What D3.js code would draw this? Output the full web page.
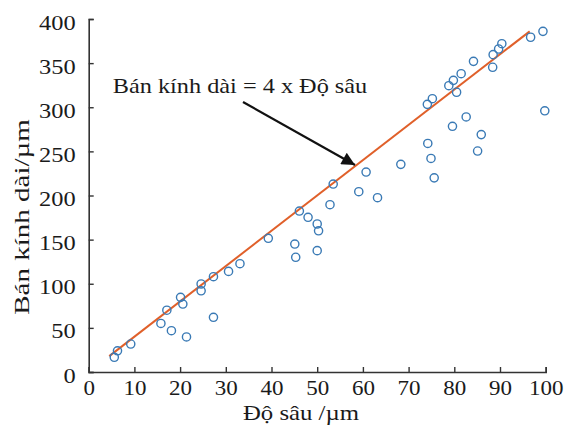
<!DOCTYPE html>
<html>
<head>
<meta charset="utf-8">
<script src="https://cdn.jsdelivr.net/npm/d3@7"></script>
<style>
  body { margin: 0; background: #fff; }
  text { font-family: "Liberation Serif", "Times New Roman", serif; fill: #1a1a1a; }
</style>
</head>
<body>
<svg id="canvas" width="570" height="434"></svg>
<script>
// measured points (depth um, long radius um)
let depth = [5.6, 6.3, 9.2, 15.8, 17.1, 18.1, 20.1, 20.6, 21.4, 24.6,
  24.6, 27.3, 27.3, 30.6, 33.1, 39.3, 45.1, 45.3, 46.1, 48,
  50, 50.3, 50, 52.8, 53.5, 59.1, 60.7, 63.2, 68.3, 74.2,
  74.9, 75.6, 74.1, 75.2, 78.8, 79.8, 80.5, 81.5, 84.2, 88.4,
  88.5, 89.7, 90.4, 96.7, 99.4, 99.8, 79.6, 82.6, 85.1, 85.9];
let radius = [16.7, 24, 31.7, 55, 70, 46.8, 84.6, 77, 39.7, 99.7,
  92, 62, 108, 114, 122.7, 151.5, 145, 130, 182.4, 175.3,
  167.7, 160, 137.5, 189.6, 213, 204.3, 226.6, 197.5, 235.3, 259,
  242, 220, 303.3, 309.7, 324.4, 330.5, 317, 338, 352, 345.3,
  359.6, 366, 372, 379.3, 386, 296, 278.4, 289, 250.4, 269];
let fitX = [4.5, 96.5];
let slope = 4;
let xTicks = [0, 10, 20, 30, 40, 50, 60, 70, 80, 90, 100];
let yTicks = [0, 50, 100, 150, 200, 250, 300, 350, 400];

let canvas = d3.select('#canvas');
let x = d3.scaleLinear().domain([0, 100]).range([88.7, 545.7]);
let y = d3.scaleLinear().domain([0, 400]).range([372, 19]);

// the source picture is stretched sideways a bit, so stretch the text too
function stretchX(sel, s) {
  sel.attr('transform', function () {
    let ax = +this.getAttribute('x') || 0;
    return 'translate(' + ax * (1 - s) + ',0) scale(' + s + ',1)';
  });
}

let gx = canvas.append('g')
  .attr('transform', 'translate(0,' + y(0) + ')')
  .call(d3.axisBottom(x).tickValues(xTicks).tickSize(-5).tickPadding(9));
let gy = canvas.append('g')
  .attr('transform', 'translate(' + x(0) + ',0)')
  .call(d3.axisLeft(y).tickValues(yTicks).tickSize(-5).tickPadding(13));

[gx, gy].forEach(g => {
  g.select('.domain').attr('stroke', '#333').attr('stroke-width', 1.6);
  g.selectAll('.tick line').attr('stroke', '#333').attr('stroke-width', 1.4);
  g.selectAll('.tick text').style('font-size', '20px').style('font-family', '"Liberation Serif", serif').attr('fill', '#1a1a1a');
});
gy.selectAll('.tick text').attr('dy', '0.5em').call(stretchX, 1.22);
gx.selectAll('.tick text').call(stretchX, 1.15);

// fit line y = 4x
canvas.append('line')
  .attr('x1', x(fitX[0])).attr('y1', y(slope * fitX[0]))
  .attr('x2', x(fitX[1])).attr('y2', y(slope * fitX[1]))
  .attr('stroke', '#e0602a').attr('stroke-width', 2);

canvas.selectAll('circle')
  .data(depth)
  .enter()
  .append('circle')
  .attr('cx', (d) => x(d))
  .attr('cy', (d, i) => y(radius[i]))
  .attr('r', 4.1)
  .attr('fill', 'none')
  .attr('stroke', '#3a7ab5')
  .attr('stroke-width', 1.4);

// annotation with arrow
canvas.append('defs').append('marker')
  .attr('id', 'head').attr('viewBox', '0 0 10 10')
  .attr('refX', 10).attr('refY', 5)
  .attr('markerWidth', 7).attr('markerHeight', 6)
  .attr('markerUnits', 'strokeWidth')
  .attr('orient', 'auto')
  .append('path').attr('d', 'M0,0 L10,5 L0,10 z').attr('fill', '#111');

canvas.append('line')
  .attr('x1', 243).attr('y1', 102)
  .attr('x2', 355).attr('y2', 165)
  .attr('stroke', '#111').attr('stroke-width', 2.2)
  .attr('marker-end', 'url(#head)');

canvas.append('text')
  .attr('x', 112.7).attr('y', 93)
  .style('font-size', '21.5px')
  .text('Bán kính dài = 4 x Độ sâu')
  .call(stretchX, 1.13);

canvas.append('text')
  .attr('x', 301).attr('y', 420)
  .attr('text-anchor', 'middle')
  .style('font-size', '21px')
  .text('Độ sâu /µm')
  .call(stretchX, 1.18);

canvas.append('text')
  .attr('transform', 'translate(29,217) rotate(-90) scale(1.32,1)')
  .attr('text-anchor', 'middle')
  .style('font-size', '22px')
  .text('Bán kính dài/µm');
</script>
</body>
</html>
